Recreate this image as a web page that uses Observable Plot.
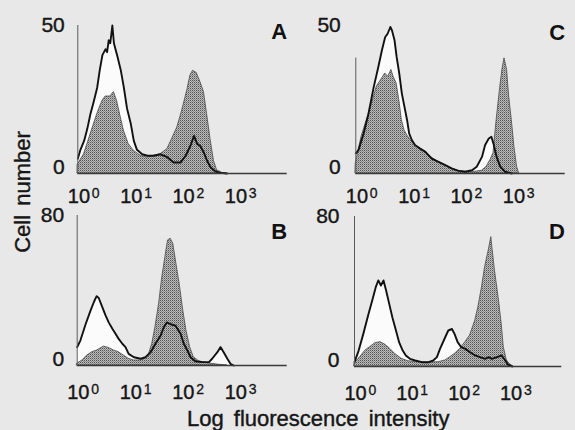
<!DOCTYPE html>
<html><head><meta charset="utf-8">
<script src="https://cdn.jsdelivr.net/npm/d3@7"></script>
<script src="https://cdn.jsdelivr.net/npm/@observablehq/plot@0.6"></script>
<style>
html,body{margin:0;padding:0;background:#e8e8e8;}
#fig{position:relative;width:575px;height:430px;background:#e8e8e8;overflow:hidden;font-family:"Liberation Sans",Arial,Helvetica,sans-serif;color:#161616;}
.lab{position:absolute;font-size:22px;line-height:22px;white-space:nowrap;-webkit-text-stroke:0.4px #161616;}
</style></head><body>
<svg width="0" height="0" style="position:absolute"><defs>
<pattern id="stip" patternUnits="userSpaceOnUse" width="2" height="2">
<rect width="2" height="2" fill="#bcbcbc"/><rect width="1" height="1" fill="#505050"/><rect x="1" y="1" width="1" height="1" fill="#8a8a8a"/>
</pattern></defs></svg>
<div id="fig"></div>
<script>
// x values: log10 fluorescence intensity (decades); y values: cell number
const decadeTicks = [0, 1, 2, 3];
const topYTicks = [0, 50];
const bottomYTicks = [0, 80];

const aOpenX = [0.00,0.05,0.12,0.18,0.24,0.30,0.37,0.42,0.47,0.50,0.53,0.56,0.59,0.62,0.66,0.69,0.72,0.75,0.82,0.88,0.94,1.01,1.07,1.13,1.23,1.33,1.45,1.58,1.71,1.83,1.96,2.06,2.15,2.22,2.28,2.34,2.41,2.47,2.54,2.63,2.73,2.85];
const aOpenY = [5,8,11,15,20,24,29,35,40,41,42,41,45,44,50,44,42,40,35,29,22,17,11,8,6.5,6,6,6.5,5.5,3.7,3.7,6,9.3,12.7,10,9.3,7,4.3,2,0.7,0.2,0];
const aFillX = [0.00,0.12,0.24,0.37,0.47,0.53,0.62,0.69,0.75,0.82,0.88,0.97,1.07,1.20,1.32,1.45,1.58,1.71,1.80,1.90,1.99,2.09,2.15,2.20,2.27,2.34,2.41,2.47,2.54,2.60,2.66,2.76,2.85];
const aFillY = [3,6.5,13,20,24.5,26,26,27.5,24.5,19,14.5,10,7.7,6,5.4,6,6.5,8.2,11.6,15.5,21,28,33,34.7,34,31,27.5,20,11,4.3,1.1,0.2,0];

const cOpenX = [0.00,0.05,0.15,0.24,0.34,0.43,0.50,0.56,0.61,0.66,0.69,0.74,0.78,0.83,0.88,0.93,0.98,1.02,1.07,1.13,1.23,1.33,1.45,1.58,1.71,1.83,1.96,2.09,2.22,2.31,2.41,2.47,2.54,2.59,2.63,2.69,2.76,2.85,2.98];
const cOpenY = [6.8,7.9,13.5,20,29,36,41.7,46,47.3,49.5,48.4,45,39.4,33.8,27,22.5,18,13.5,11.3,9.6,8.4,7.3,5,3.9,2.8,1.7,0.9,0.6,1.1,2.3,5.6,9.6,11.8,12.4,10.1,5.6,2.3,0.6,0];
const cFillX = [0.00,0.11,0.21,0.31,0.40,0.50,0.56,0.62,0.68,0.72,0.78,0.83,0.88,0.93,0.98,1.04,1.13,1.23,1.33,1.45,1.58,1.71,1.83,1.96,2.09,2.28,2.41,2.50,2.57,2.63,2.69,2.76,2.80,2.84,2.89,2.93,2.98,3.03,3.08,3.12];
const cFillY = [3.4,12.4,18,23.6,29.3,32,33.8,32.7,35,32.7,30.4,24.8,18,14.6,13,11.3,9.6,8.1,7.3,5.4,3.9,2.8,1.7,0.9,0.6,0.6,0.9,2.3,4.5,6.8,18,29.3,35,38.9,35,25.9,18,9,2.3,0];

const bOpenX = [0.00,0.06,0.16,0.25,0.32,0.37,0.41,0.48,0.54,0.60,0.67,0.73,0.79,0.86,0.92,0.98,1.08,1.21,1.30,1.40,1.49,1.59,1.65,1.71,1.78,1.87,1.97,2.03,2.10,2.16,2.25,2.38,2.51,2.57,2.67,2.73,2.79,2.86,2.92,2.98];
const bOpenY = [9.8,13.3,22,29,34,37,36,31,26.7,23,19.6,16.9,14.2,11.6,9.8,6.2,4.4,3.6,4.4,7.1,11.6,16,20.4,23,22,21.3,16.9,11.6,8,4.4,2.3,1.8,1.8,3.6,7.1,9.8,7.1,3.6,0.9,0];
const bFillX = [0.00,0.10,0.19,0.29,0.38,0.51,0.60,0.70,0.79,0.89,0.98,1.08,1.21,1.30,1.37,1.43,1.49,1.56,1.62,1.68,1.73,1.78,1.83,1.89,1.96,2.02,2.08,2.15,2.22,2.32,2.48,2.67,2.86];
const bFillY = [0.9,2.7,5.3,7.1,8,10.1,9.4,8,7.1,5.3,3.6,2.7,2.7,3.6,6.2,11.6,20.4,32.9,47,57.8,66.7,67.6,64.9,54.2,41.8,29.3,18.7,9.8,4.4,2.3,1.2,0.5,0];

const dOpenX = [0.00,0.08,0.17,0.27,0.35,0.41,0.46,0.51,0.56,0.61,0.67,0.73,0.80,0.86,0.93,0.99,1.07,1.17,1.30,1.43,1.52,1.59,1.65,1.75,1.81,1.88,1.93,1.99,2.06,2.14,2.23,2.33,2.42,2.52,2.59,2.65,2.75,2.84,2.91,2.96,3.04];
const dOpenY = [2.3,8.5,17.4,28,36,42.3,45.9,43.2,45.9,40.5,33.4,26.3,19.2,13,8.5,5.9,4.1,3.2,2.3,2.3,3.2,5,9.4,15.6,19.2,20,17.4,13,10.3,9.4,7.6,5.9,5,4.1,5,4.1,5,5.9,3.2,1.1,0];
const dFillX = [0.00,0.11,0.21,0.30,0.40,0.50,0.59,0.69,0.78,0.91,1.04,1.24,1.43,1.62,1.75,1.85,1.94,2.04,2.14,2.23,2.33,2.39,2.46,2.52,2.59,2.64,2.66,2.71,2.78,2.84,2.88,2.94,3.00,3.07];
const dFillY = [1.4,5,8.5,10.3,12.4,13,11.7,9.4,6.8,4.1,2.8,2.3,2.1,2.3,3.2,5,6.8,9.4,13,16.5,24.5,31.6,42.3,53,61.9,69,63.6,51.2,37,22.8,10.3,3.2,1.1,0];

const FONT = '"Liberation Sans", Arial, Helvetica, sans-serif';
const INK = "#161616";

function panel(p) {
  const open = p.openX.map((x, i) => ({x, y: p.openY[i]}));
  const fill = p.fillX.map((x, i) => ({x, y: p.fillY[i]}));
  const yMax = p.yTicks[p.yTicks.length - 1];
  const txt = {fill: INK, stroke: INK, strokeWidth: 0.4};
  const svg = Plot.plot({
    width: p.width, height: p.height,
    marginLeft: p.mL, marginRight: p.mR, marginTop: p.mT, marginBottom: p.mB,
    x: {domain: [0, 4], axis: null},
    y: {domain: [0, yMax], axis: null},
    style: {background: "transparent", fontFamily: FONT, overflow: "visible", color: INK},
    marks: [
      Plot.areaY(open, {x: "x", y: "y", fill: "#fbfbfb"}),
      Plot.areaY(fill, {x: "x", y: "y", fill: "url(#stip)", stroke: "#4a4a4a", strokeWidth: 0.8}),
      Plot.lineY(open, {x: "x", y: "y", stroke: "#111", strokeWidth: 1.9}),
      Plot.ruleY([0], {stroke: "#3a3a3a", strokeWidth: 1.3}),
      Plot.ruleX([0], {y1: 0, y2: p.axisTop, stroke: "#5a5a5a", strokeWidth: 1}),
      Plot.text([p.yTicks[1]], {frameAnchor: "left", y: d => d, text: d => String(d), textAnchor: "end", lineAnchor: "middle", dx: p.yDx, fontSize: 21, ...txt}),
      Plot.text([p.yTicks[0]], {frameAnchor: "left", y: d => d, text: d => String(d), textAnchor: "end", lineAnchor: "bottom", dx: p.yDx, fontSize: 21, ...txt}),
      Plot.text(decadeTicks, {x: d => d, frameAnchor: "bottom", text: () => "10", textAnchor: "start", lineAnchor: "bottom", dx: -10, dy: p.tickDy, fontSize: 20, ...txt}),
      Plot.text(decadeTicks, {x: d => d, frameAnchor: "bottom", text: d => String(d), textAnchor: "start", lineAnchor: "top", dx: 14, dy: p.tickDy - 14.5, fontSize: 14, fill: INK, stroke: INK, strokeWidth: 0.3}),
      Plot.text([p.letter], {frameAnchor: "top-right", text: d => d, textAnchor: "end", lineAnchor: "bottom", dx: p.lDx, dy: p.lDy, fontSize: 22, fontWeight: "bold", fill: "#111"})
    ]
  });
  svg.style.position = "absolute";
  svg.style.left = p.left + "px";
  svg.style.top = p.top + "px";
  svg.style.overflow = "visible";
  return svg;
}

const fig = document.getElementById("fig");
fig.appendChild(panel({openX: aOpenX, openY: aOpenY, fillX: aFillX, fillY: aFillY, yTicks: topYTicks, axisTop: 50,
  left: 0, top: 0, width: 292, height: 215, mL: 77.3, mR: 5.3, mT: 25, mB: 42, tickDy: 29, yDx: -13, letter: "A", lDx: 0, lDy: 13}));
fig.appendChild(panel({openX: cOpenX, openY: cOpenY, fillX: cFillX, fillY: cFillY, yTicks: topYTicks, axisTop: 39,
  left: 292, top: 0, width: 283, height: 215, mL: 63.3, mR: 10.3, mT: 25, mB: 42, tickDy: 29, yDx: -15, letter: "C", lDx: 0, lDy: 14}));
fig.appendChild(panel({openX: bOpenX, openY: bOpenY, fillX: bFillX, fillY: bFillY, yTicks: bottomYTicks, axisTop: 80,
  left: 0, top: 200, width: 292, height: 230, mL: 76.7, mR: 5.3, mT: 15, mB: 65, tickDy: 33, yDx: -13, letter: "B", lDx: 0, lDy: 23}));
fig.appendChild(panel({openX: dOpenX, openY: dOpenY, fillX: dFillX, fillY: dFillY, yTicks: bottomYTicks, axisTop: 80,
  left: 292, top: 200, width: 283, height: 230, mL: 62, mR: 13.7, mT: 16, mB: 64, tickDy: 33, yDx: -15, letter: "D", lDx: 3, lDy: 22}));

const yl = document.createElement("div");
yl.className = "lab";
yl.textContent = "Cell number";
yl.style.left = "23px"; yl.style.top = "192px";
yl.style.wordSpacing = "3px";
yl.style.transform = "translate(-50%,-50%) rotate(-90deg)";
fig.appendChild(yl);

const xl = document.createElement("div");
xl.className = "lab";
xl.textContent = "Log fluorescence intensity";
xl.style.left = "187px"; xl.style.top = "408px";
xl.style.wordSpacing = "4px";
fig.appendChild(xl);
</script>
</body></html>
